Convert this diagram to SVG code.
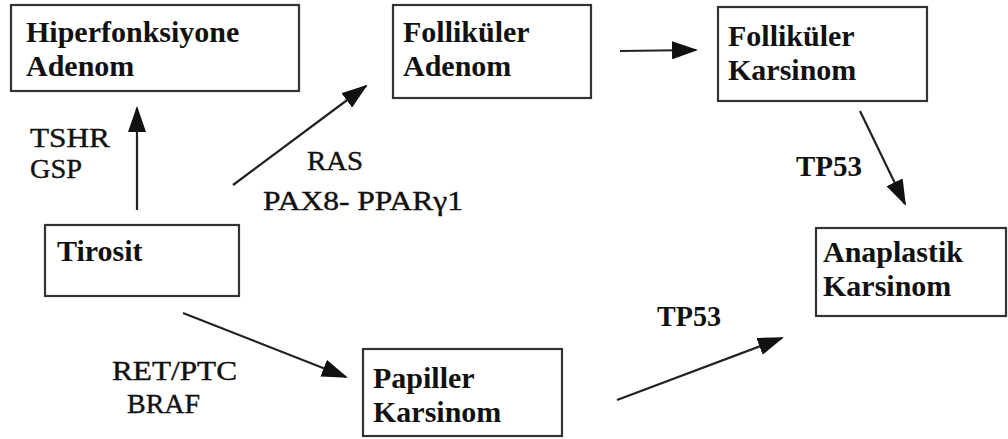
<svg xmlns="http://www.w3.org/2000/svg" width="1008" height="439" viewBox="0 0 1008 439" font-family="Liberation Serif">
<style>
.box{fill:#fff;stroke:#333;stroke-width:2.2}
.c{stroke:#222;stroke-width:2.2;fill:none}
</style>
<defs>
<marker id="ah" markerUnits="userSpaceOnUse" markerWidth="26" markerHeight="18" refX="24" refY="9" orient="auto" viewBox="0 0 26 18">
<path d="M0,0 L26,9 L0,18 z" fill="#111"/>
</marker>
</defs>
<rect width="1008" height="439" fill="#fff"/>
<g id="connectors" class="c" marker-end="url(#ah)">
<line x1="137" y1="210" x2="137" y2="108"/>
<line x1="233" y1="185" x2="366" y2="86"/>
<line x1="620" y1="51" x2="696" y2="50"/>
<line x1="860" y1="111" x2="905" y2="204"/>
<line x1="183" y1="313" x2="346" y2="377"/>
<line x1="617" y1="400" x2="782" y2="338"/>
</g>
<g id="labels" font-family="Liberation Serif" font-size="28" fill="#111" stroke="#111" stroke-width="0.4" lengthAdjust="spacingAndGlyphs">
<text x="30" y="147" textLength="80" lengthAdjust="spacingAndGlyphs">TSHR</text>
<text x="30" y="178" textLength="52" lengthAdjust="spacingAndGlyphs">GSP</text>
<text x="307" y="170" textLength="56" lengthAdjust="spacingAndGlyphs">RAS</text>
<text x="263" y="210" textLength="200" lengthAdjust="spacingAndGlyphs">PAX8- PPARγ1</text>
<text x="112" y="380" textLength="125" lengthAdjust="spacingAndGlyphs">RET/PTC</text>
<text x="127" y="413" textLength="73" lengthAdjust="spacingAndGlyphs">BRAF</text>
<text x="796" y="176" font-weight="bold" font-size="29" stroke="none" textLength="66" lengthAdjust="spacingAndGlyphs">TP53</text>
<text x="657" y="326" font-weight="bold" font-size="29" stroke="none" textLength="64" lengthAdjust="spacingAndGlyphs">TP53</text>
</g>
<g font-family="Liberation Serif" font-size="30" font-weight="bold" fill="#111">
<g id="hiperfonksiyone">
<rect class="box" x="11" y="5" width="288" height="86"/>
<text x="26" y="42">Hiperfonksiyone</text>
<text x="26" y="76">Adenom</text>
</g>
<g id="follikuler-adenom">
<rect class="box" x="393" y="5" width="198" height="93"/>
<text x="403" y="42">Folliküler</text>
<text x="403" y="76">Adenom</text>
</g>
<g id="follikuler-karsinom">
<rect class="box" x="718" y="7" width="209" height="94"/>
<text x="728" y="46">Folliküler</text>
<text x="728" y="80">Karsinom</text>
</g>
<g id="tirosit">
<rect class="box" x="45" y="225" width="194" height="71"/>
<text x="57" y="261">Tirosit</text>
</g>
<g id="papiller-karsinom">
<rect class="box" x="363" y="349" width="199" height="87"/>
<text x="373" y="388">Papiller</text>
<text x="373" y="422">Karsinom</text>
</g>
<g id="anaplastik-karsinom">
<rect class="box" x="816" y="228" width="190" height="88"/>
<text x="823" y="262">Anaplastik</text>
<text x="823" y="296">Karsinom</text>
</g>
</g>
</svg>
